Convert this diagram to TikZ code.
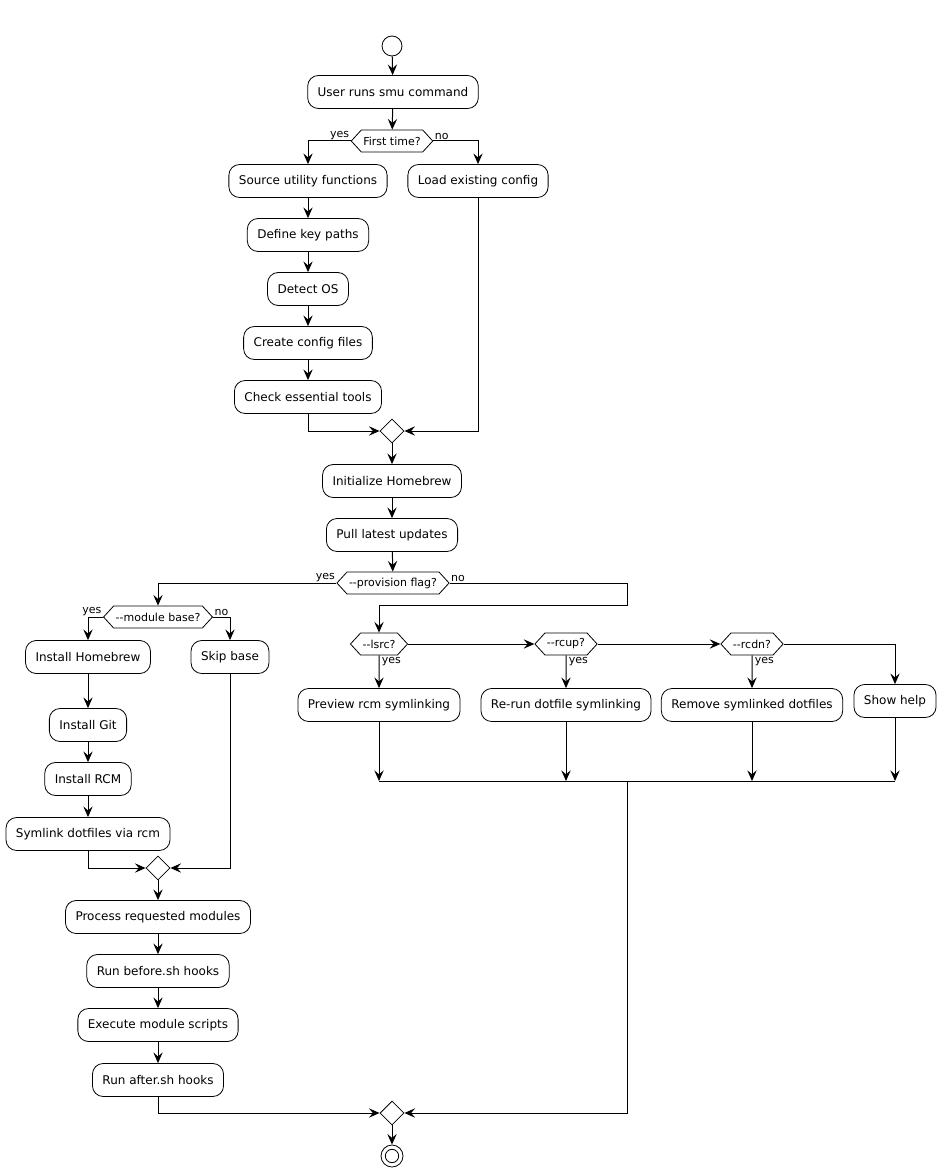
\documentclass[tikz,border=0pt]{standalone}
\usepackage{fontspec}
\setmainfont{DejaVu Sans}
\usetikzlibrary{shapes.geometric,shapes.symbols,arrows.meta}
\begin{document}
\begin{tikzpicture}[x=0.75pt,y=-0.75pt,
 act/.style={draw,fill=white,rounded corners=8pt,minimum height=24.75pt,inner xsep=7.5pt,font=\fontsize{9}{11}\selectfont,line width=0.6pt},
 dec/.style={draw,fill=white,signal,signal to=west and east,signal pointer angle=95,minimum height=16.5pt,inner xsep=1.5pt,inner ysep=0pt,font=\fontsize{8.25}{10}\selectfont,line width=0.6pt},
 merge/.style={draw,fill=white,diamond,minimum width=18pt,minimum height=18pt,inner sep=0pt,line width=0.6pt},
 lbl/.style={font=\fontsize{8.25}{10}\selectfont,inner sep=1pt},
 flow/.style={-{Stealth[length=8pt,width=7pt,inset=3pt]},line width=0.75pt},
 plain/.style={line width=0.75pt}]
\useasboundingbox[fill=white] (0,0) rectangle (941,1173);
% nodes
\node[draw,circle,minimum size=15pt,inner sep=0pt,line width=0.6pt] (start) at (392,46) {};
\node[act] (user) at (393,92) {User runs smu command};
\node[dec] (ft) at (392,141) {First time?};
\node[act] (src) at (308,181) {Source utility functions};
\node[act] (load) at (478,181) {Load existing config};
\node[act] (keys) at (308,235) {Define key paths};
\node[act] (os) at (308,289) {Detect OS};
\node[act] (cfg) at (308,343) {Create config files};
\node[act] (chk) at (308,397) {Check essential tools};
\node[merge] (m1) at (392,431) {};
\node[act] (init) at (392,481) {Initialize Homebrew};
\node[act] (pull) at (392,535) {Pull latest updates};
\node[dec] (prov) at (393,583) {-{}-provision flag?};
\node[dec] (mod) at (158,617) {-{}-module base?};
\node[act] (ihb) at (88,657) {Install Homebrew};
\node[act] (skip) at (230,657) {Skip base};
\node[act] (git) at (88,725) {Install Git};
\node[act] (rcm) at (88,779) {Install RCM};
\node[act] (sym) at (88,834) {Symlink dotfiles via rcm};
\node[merge] (m2) at (158,868) {};
\node[act] (proc) at (158,917) {Process requested modules};
\node[act] (bef) at (158,971) {Run before.sh hooks};
\node[act] (exe) at (158,1025) {Execute module scripts};
\node[act] (aft) at (158,1080) {Run after.sh hooks};
\node[merge] (m3) at (392,1113) {};
\node[draw,circle,minimum size=16.5pt,inner sep=0pt,line width=0.6pt] (stop) at (392,1156) {};
\node[draw,circle,minimum size=10pt,inner sep=0pt,line width=0.6pt] (stopin) at (stop) {};
\coordinate (c1) at (627,605);
\node[dec] (lsrc) at (379,644) {-{}-lsrc?};
\node[dec] (rcup) at (566,644) {-{}-rcup?};
\node[dec] (rcdn) at (752,644) {-{}-rcdn?};
\node[act] (prev) at (379,705) {Preview rcm symlinking};
\node[act] (rerun) at (566,705) {Re-run dotfile symlinking};
\node[act] (rem) at (752,705) {Remove symlinked dotfiles};
\node[act] (help) at (895,701) {Show help};
\coordinate (bl) at (379,781);
\coordinate (br) at (895,781);
\coordinate (jb) at (627,781);
% edges
\draw[flow] (start) -- (user);
\draw[flow] (user) -- (ft);
\draw[flow] (ft.west) -| (src.north);
\draw[flow] (ft.east) -| (load.north);
\node[lbl,anchor=south east] (y1) at (ft.west) {yes};
\node[lbl,anchor=south west] (n1) at (ft.east) {no};
\draw[flow] (src) -- (keys);
\draw[flow] (keys) -- (os);
\draw[flow] (os) -- (cfg);
\draw[flow] (cfg) -- (chk);
\draw[flow] (chk.south) |- (m1.west);
\draw[flow] (load.south) |- (m1.east);
\draw[flow] (m1) -- (init);
\draw[flow] (init) -- (pull);
\draw[flow] (pull) -- (prov);
\draw[flow] (prov.west) -| (mod.north);
\node[lbl,anchor=south east] (y2) at (prov.west) {yes};
\node[lbl,anchor=south west] (n2) at (prov.east) {no};
\draw[flow] (prov.east) -| (c1) -| (lsrc.north);
\draw[flow] (mod.west) -| (ihb.north);
\draw[flow] (mod.east) -| (skip.north);
\node[lbl,anchor=south east] (y3) at (mod.west) {yes};
\node[lbl,anchor=south west] (n3) at (mod.east) {no};
\draw[flow] (ihb) -- (git);
\draw[flow] (git) -- (rcm);
\draw[flow] (rcm) -- (sym);
\draw[flow] (sym.south) |- (m2.west);
\draw[flow] (skip.south) |- (m2.east);
\draw[flow] (m2) -- (proc);
\draw[flow] (proc) -- (bef);
\draw[flow] (bef) -- (exe);
\draw[flow] (exe) -- (aft);
\draw[flow] (aft.south) |- (m3.west);
\draw[flow] (jb) |- (m3.east);
\draw[flow] (m3) -- (stop);
\draw[flow] (lsrc.east) -- (rcup.west);
\draw[flow] (rcup.east) -- (rcdn.west);
\draw[flow] (rcdn.east) -| (help.north);
\draw[flow] (lsrc) -- (prev);
\draw[flow] (rcup) -- (rerun);
\draw[flow] (rcdn) -- (rem);
\node[lbl,anchor=north west,xshift=1pt] (y4) at (lsrc.south) {yes};
\node[lbl,anchor=north west,xshift=1pt] (y5) at (rcup.south) {yes};
\node[lbl,anchor=north west,xshift=1pt] (y6) at (rcdn.south) {yes};
\draw[flow] (prev) -- (prev |- bl);
\draw[flow] (rerun) -- (rerun |- bl);
\draw[flow] (rem) -- (rem |- bl);
\draw[flow] (help) -- (help |- br);
\draw[plain] (bl) -- (br);
\end{tikzpicture}
\end{document}
